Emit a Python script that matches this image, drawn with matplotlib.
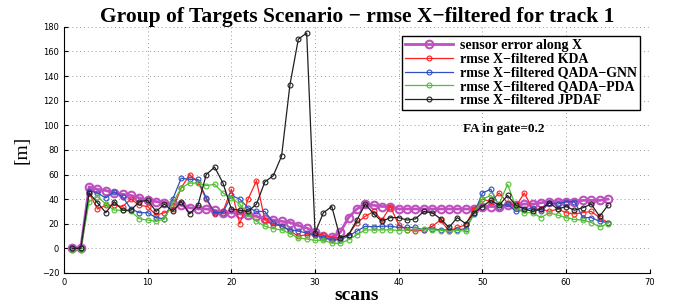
import numpy as np
import matplotlib
matplotlib.use("Agg")
import matplotlib.pyplot as plt

scans = np.arange(1, 66)

sensor = [0, 0, 50, 48, 47, 45, 44, 43, 41, 39, 38, 37, 36, 35, 33, 32, 32, 31, 29, 29,
          28, 27, 26, 24, 23, 22, 21, 18.5, 16.6, 13, 10, 9, 13, 25, 32, 36, 35, 34, 34, 32,
          32, 32, 32, 32, 32, 32, 32, 32, 32, 34, 34, 34, 35, 35, 36, 36, 37, 38, 38, 38,
          38, 39, 39, 39, 40]
kda = [0, 0, 45, 32, 35, 35, 34, 40, 35, 34, 27, 29, 32, 49, 60, 54, 40, 28, 30, 48,
       20, 40, 55, 23, 19, 18.5, 14, 10, 11, 11, 11, 8.5, 8.5, 11, 21, 26, 30, 23, 34, 19,
       15, 14, 15, 18, 23, 14, 17, 19, 32, 40, 38, 45, 37, 34, 45, 32, 32, 30, 32, 29,
       28, 29, 30, 25, 21]
gnn = [0, 0, 47, 45, 41, 46, 42, 32, 29, 29, 25, 24, 40, 57, 56, 56, 41, 29, 29, 43,
       40, 33, 30, 30, 21, 18, 15, 14, 12.5, 11, 8.5, 7, 7, 10, 14, 18, 17.5, 18, 18, 17,
       17, 17, 15, 16, 15, 15, 15, 16, 28, 45, 48, 34, 36, 30, 31, 33, 30, 37, 36, 38,
       38, 25, 25, 22, 21]
pda = [-1, -1, 38, 42, 36, 31, 31, 30, 24, 23, 22, 24, 37, 49, 53, 53, 51, 52, 45, 41,
       36, 28, 22, 18, 16, 15, 12, 8.5, 7.6, 6.5, 6.5, 4.4, 4, 7, 11, 15, 15, 15, 15, 14.5,
       15, 15.5, 15.5, 15, 14.5, 14, 14.5, 14, 29, 40, 43, 36, 52, 34, 29, 29, 25, 29, 27, 25,
       23.5, 23, 21, 17.5, 20]
jpdaf = [0, 0, 45, 37, 29, 38, 31, 31, 38, 39, 30, 36, 30, 38, 28, 35, 60, 66, 53, 32,
         31, 30, 36, 54, 59, 75, 133, 170, 175, 12.5, 29, 34, 8.5, 11, 23, 36, 28, 22, 25, 25,
         23, 24, 30, 29, 24, 17, 25, 20, 29, 34, 39, 35, 43, 35, 32, 30, 32, 37, 32, 34,
         31, 33, 36, 26, 35]

serif = ["Liberation Serif", "DejaVu Serif"]

fig = plt.figure(figsize=(6.78, 3.05), dpi=100)
ax = fig.add_axes([0.0944, 0.105, 0.864, 0.807])

ax.plot(scans, sensor, '-o', color='#c050c0', lw=2, ms=5.5, mfc='none', mew=1.5,
        label='sensor error along X', zorder=3)
ax.plot(scans, kda, '-o', color='#ff2020', lw=0.9, ms=3.5, mfc='none', mew=0.8,
        label='rmse X\u2212filtered KDA', zorder=4)
ax.plot(scans, gnn, '-o', color='#3050c0', lw=0.9, ms=3.5, mfc='none', mew=0.8,
        label='rmse X\u2212filtered QADA\u2212GNN', zorder=4)
ax.plot(scans, pda, '-o', color='#50c030', lw=0.9, ms=3.5, mfc='none', mew=0.8,
        label='rmse X\u2212filtered QADA\u2212PDA', zorder=4)
ax.plot(scans, jpdaf, '-o', color='#202020', lw=0.9, ms=3.5, mfc='none', mew=0.8,
        label='rmse X\u2212filtered JPDAF', zorder=5)

ax.set_xlim(0, 70)
ax.set_ylim(-20, 180)
ax.set_xticks(range(0, 71, 10))
ax.set_yticks(range(-20, 181, 20))
ax.tick_params(direction='in', labelsize=6, length=3, width=0.8)
ax.grid(True, linestyle=(0, (1, 3)), color='#999999', lw=0.7)
ax.spines['top'].set_visible(False)
ax.spines['right'].set_visible(False)

ax.set_title('Group of Targets Scenario \u2212 rmse X\u2212filtered for track 1',
             family=serif, fontweight='bold', fontsize=15.5, pad=3)
ax.set_xlabel('scans', family=serif, fontweight='bold', fontsize=14, labelpad=0)
ax.set_ylabel('[m]', family=serif, fontsize=14, labelpad=8)

ax.text(47.7, 97, 'FA in gate=0.2', family=serif, fontweight='bold', fontsize=9.5,
        va='center')

leg = ax.legend(loc='upper right', bbox_to_anchor=(0.995, 0.99),
                prop={'family': serif, 'weight': 'bold', 'size': 10},
                fancybox=False, edgecolor='black', framealpha=1,
                handlelength=3.5, borderpad=0.2, labelspacing=0.05, handletextpad=0.5)
leg.get_frame().set_linewidth(1.0)

fig.savefig('out.png', dpi=100)
